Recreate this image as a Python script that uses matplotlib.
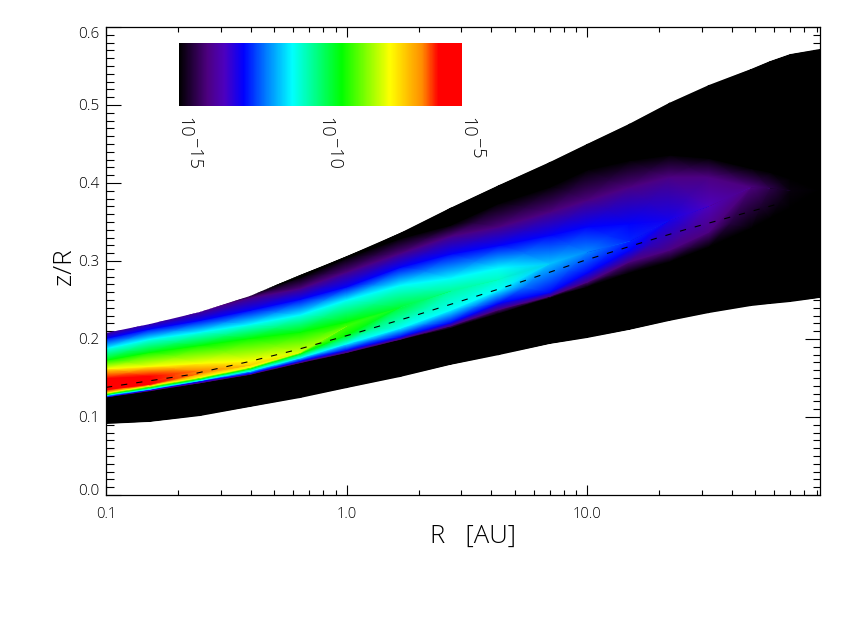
import matplotlib
matplotlib.use('Agg')
import matplotlib.pyplot as plt
import numpy as np
from matplotlib.colors import LinearSegmentedColormap
from matplotlib.ticker import FixedLocator, LogLocator, MultipleLocator, NullFormatter, FuncFormatter

# radial columns [AU]
r_au = [0.10, 0.152, 0.246, 0.397, 0.641, 1.0, 1.67, 2.70, 4.30, 7.00, 10.0, 15.0, 22.0, 32.0, 48.0, 57.7, 70.0, 93.0]

# outer edges of the coloured region, z/R
z_top = [.208, .219, .235, .255, .282, .306, .336, .368, .397, .427, .450, .476, .503, .526, .546, .556, .565, .572]
z_bottom = [.091, .094, .101, .113, .124, .137, .151, .167, .179, .194, .201, .212, .223, .233, .242, .245, .247, .253]

# maximum of log10(abundance) in each column and where it sits
z_peak = [.142, .146, .156, .167, .183, .217, .241, .262, .277, .297, .312, .326, .353, .371, .395, .394, .391, .391]
log_peak = [-5.0, -5.5, -6.4, -7.1, -7.8, -8.8, -9.6, -10.3, -10.6, -11.4, -11.8, -12.5, -12.9, -13.4, -14.0, -14.4, -14.9, -15.0]

# z/R where a level is crossed, nan when the column never reaches it
nan = float('nan')
low_black = [.125, .133, .144, .154, .169, .182, .199, .214, .233, .253, .267, .285, .299, .318, .342, .355, .368, nan]
low_purple = [.126, .134, .144, .155, .170, .183, .200, .217, .238, .255, .273, .299, .314, .337, nan, nan, nan, nan]
low_blue = [.126, .135, .146, .156, .172, .186, .203, .221, .246, .260, .285, .314, nan, nan, nan, nan, nan, nan]
low_cyan = [.128, .136, .147, .159, .176, .194, .214, .237, .263, nan, nan, nan, nan, nan, nan, nan, nan, nan]
low_green = [.129, .138, .149, .162, .181, .205, nan, nan, nan, nan, nan, nan, nan, nan, nan, nan, nan, nan]
low_yellow = [.131, .140, .151, .164, nan, nan, nan, nan, nan, nan, nan, nan, nan, nan, nan, nan, nan, nan]
low_red = [.135, .142, nan, nan, nan, nan, nan, nan, nan, nan, nan, nan, nan, nan, nan, nan, nan, nan]

up_red = [.150, .153, .160, nan, nan, nan, nan, nan, nan, nan, nan, nan, nan, nan, nan, nan, nan, nan]
up_yellow = [.162, .165, .169, .172, nan, nan, nan, nan, nan, nan, nan, nan, nan, nan, nan, nan, nan, nan]
up_green = [.173, .183, .192, .201, .209, .222, nan, nan, nan, nan, nan, nan, nan, nan, nan, nan, nan, nan]
up_cyan = [.188, .200, .209, .219, .231, .250, .269, .278, .291, nan, nan, nan, nan, nan, nan, nan, nan, nan]
up_blue = [.201, .213, .224, .237, .251, .267, .292, .309, .320, .333, .344, .348, nan, nan, nan, nan, nan, nan]
up_purple = [.209, .222, .236, .253, .265, .286, .310, .332, .344, .363, .378, .395, .408, .408, nan, nan, nan, nan]
up_black = [.214, .227, .241, .258, .279, .304, .329, .346, .374, .395, .417, .429, .436, .432, .419, .414, .406, nan]

# log10 value of each level, in the same order as the crossings
lev_black, lev_purple, lev_blue, lev_cyan = -15.0, -14.0, -12.72, -11.0
lev_green, lev_yellow, lev_red = -9.25, -7.54, -5.83

# dashed curve
line_r = [0.1, 0.221, 0.393, 0.617, 1.105, 1.97, 3.48, 5.41, 9.6, 17.1, 26.1, 62.0]
line_z = [.138, .154, .171, .186, .208, .231, .255, .274, .300, .324, .341, .373]

# colour table of the bar
cmap_pos = [0, .1, .16, .228, .31, .40, .575, .746, .86, .917, 1]
cmap_col = ['#000000', '#4d0080', '#4d00bf', '#0000ff', '#0080ff', '#00ffff', '#00ff00', '#ffff00', '#ff8c00', '#ff0000', '#ff0000']

W, H = 847, 629

plt.rcParams['font.family'] = ['Open Sans', 'DejaVu Sans']
plt.rcParams['font.weight'] = 'light'
plt.rcParams['lines.scale_dashes'] = False

fig = plt.figure(figsize=(W / 100, H / 100), dpi=100)
ax = fig.add_axes([106 / W, 1 - 495 / H, 714 / W, 468 / H])
ax.set_xscale('log')
ax.set_xlim(0.1, 93)
ax.set_ylim(0, 0.6)
ax.set_axisbelow(True)

# every column gets the same node count; levels it never reaches collapse on the peak
peak = np.array(z_peak)
log_max = np.array(log_peak)
rows = [
    (z_bottom, lev_black),
    (low_black, lev_black), (low_purple, lev_purple), (low_blue, lev_blue), (low_cyan, lev_cyan),
    (low_green, lev_green), (low_yellow, lev_yellow), (low_red, lev_red),
    (z_peak, 0.0),
    (up_red, lev_red), (up_yellow, lev_yellow), (up_green, lev_green), (up_cyan, lev_cyan),
    (up_blue, lev_blue), (up_purple, lev_purple), (up_black, lev_black),
]
zz = [np.where(np.isnan(z), peak, z) for z, lev in rows]
cc = [np.minimum(lev, log_max) for z, lev in rows]
zz.append(np.maximum(np.array(z_top), zz[-1]))
cc.append(np.full(len(r_au), lev_black))
zz = np.array(zz)
cc = np.array(cc)
xx = np.tile(np.array(r_au), (zz.shape[0], 1))

cmap = LinearSegmentedColormap.from_list('chem', list(zip(cmap_pos, cmap_col)), N=512)
mesh = ax.pcolormesh(xx, zz, cc, shading='gouraud', cmap=cmap, vmin=-15, vmax=-5)

outline = ax.fill_between(r_au, z_bottom, z_top, facecolor='none', edgecolor='none')
mesh.set_clip_path(outline.get_paths()[0], ax.transData)

ax.plot(line_r, line_z, color='k', lw=0.8, dashes=(4.5, 6.5))

# axes in the old box style, ticks on all four sides
ax.xaxis.set_major_locator(FixedLocator([0.1, 1, 10]))
ax.xaxis.set_major_formatter(FuncFormatter(lambda v, p: '%.1f' % v))
ax.xaxis.set_minor_locator(LogLocator(base=10, subs=range(2, 10), numticks=12))
ax.xaxis.set_minor_formatter(NullFormatter())
ax.yaxis.set_major_locator(FixedLocator([0, .1, .2, .3, .4, .5, .6]))
ax.yaxis.set_minor_locator(MultipleLocator(0.01))
ax.yaxis.set_major_formatter(FuncFormatter(lambda v, p: '%.1f' % v))
ax.tick_params(axis='x', which='major', direction='in', top=True, length=7, width=0.8, labelsize=10.5, pad=9)
ax.tick_params(axis='x', which='minor', direction='in', top=True, length=3.5, width=0.8)
ax.tick_params(axis='y', which='major', direction='in', right=True, length=10.8, width=0.8, labelsize=11, pad=5)
ax.tick_params(axis='y', which='minor', direction='in', right=True, length=5.4, width=0.8)
for sp in ax.spines.values():
    sp.set_linewidth(0.9)

# end labels of the y axis sit inside the axis range
ylabels = ax.get_yticklabels()
ylabels[0].set_verticalalignment('baseline')
ylabels[-1].set_verticalalignment('top')

fig.text(473 / W, 1 - 536 / H, 'R   [AU]', fontsize=18.5, ha='center', va='center')
fig.text(64 / W, 1 - 267 / H, 'z/R', fontsize=19, ha='center', va='center', rotation=90)

# colour bar
cax = fig.add_axes([179 / W, 1 - 106 / H, 283 / W, 63 / H])
cb = fig.colorbar(mesh, cax=cax, orientation='horizontal')
cb.set_ticks([])
cb.outline.set_visible(False)

bar_ticks = [('10', '\u221215', 184, 194), ('10', '\u221210', 325, 334), ('10', '\u22125', 467, 477)]
for base, expo, x0, x1 in bar_ticks:
    fig.text(x0 / W, 1 - 117 / H, base, fontsize=13, rotation=-90, ha='center', va='top')
    fig.text(x1 / W, 1 - 138 / H, expo, fontsize=13, rotation=-90, ha='center', va='top')

fig.savefig('out.png', dpi=100)
